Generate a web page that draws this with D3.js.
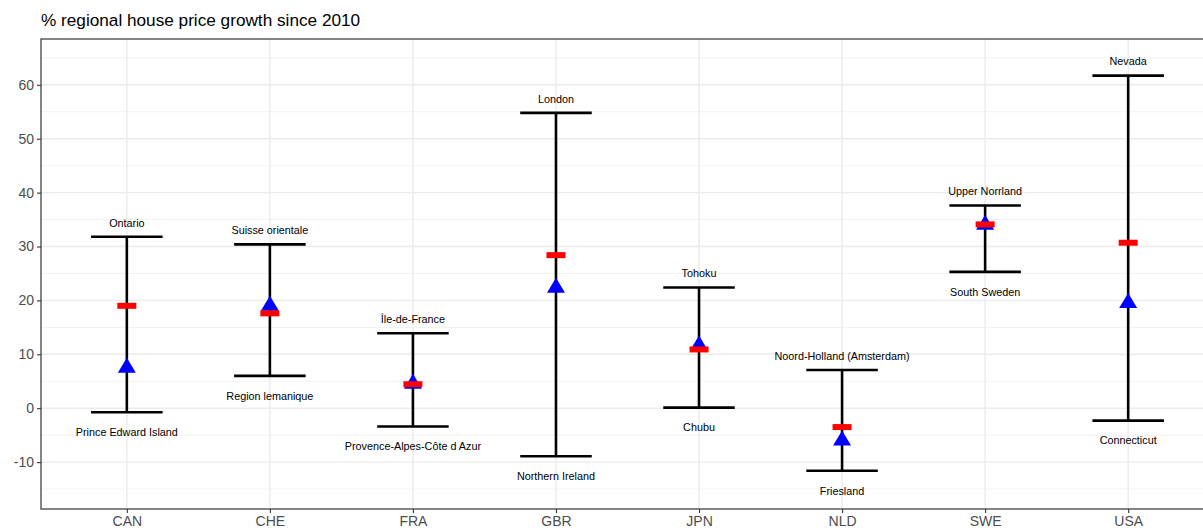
<!DOCTYPE html>
<html>
<head>
<meta charset="utf-8">
<script src="https://cdn.jsdelivr.net/npm/d3@7"></script>
<style>
  body { margin: 0; background: #fff; }
  text { font-family: "Liberation Sans", Arial, sans-serif; }
</style>
</head>
<body>
<div id="chart"></div>
<script>
// Data
const countries = ["CAN", "CHE", "FRA", "GBR", "JPN", "NLD", "SWE", "USA"];
const topRegions = ["Ontario", "Suisse orientale", "Île-de-France", "London", "Tohoku", "Noord-Holland (Amsterdam)", "Upper Norrland", "Nevada"];
const bottomRegions = ["Prince Edward Island", "Region lemanique", "Provence-Alpes-Côte d Azur", "Northern Ireland", "Chubu", "Friesland", "South Sweden", "Connecticut"];
const highGrowth = [31.8, 30.4, 13.9, 54.8, 22.4, 7.1, 37.6, 61.7];
const lowGrowth = [-0.75, 6.0, -3.4, -8.9, 0.1, -11.6, 25.3, -2.3];
const redGrowth = [19.0, 17.6, 4.45, 28.4, 10.9, -3.5, 34.1, 30.7];
const blueGrowth = [7.9, 19.4, 4.9, 22.7, 12.0, -5.6, 34.4, 19.9];
const yTicks = [-10, 0, 10, 20, 30, 40, 50, 60];
const yMinor = [-15, -5, 5, 15, 25, 35, 45, 55, 65];

const width = 1203, height = 532;
const pLeft = 41, pTop = 39, pRight = 1214, pBottom = 509;

const data = countries.map((c, i) => ({
  country: c, hi: highGrowth[i], lo: lowGrowth[i],
  hiName: topRegions[i], loName: bottomRegions[i],
  red: redGrowth[i], blue: blueGrowth[i]
}));

const svg = d3.select("#chart")
  .append("svg")
  .attr("width", width)
  .attr("height", height);

const x = d3.scalePoint().domain(countries).range([pLeft, pRight]).padding(0.6);
const y = d3.scaleLinear().domain([-18.7, 68.5]).range([pBottom, pTop]);

// Clip to panel
svg.append("clipPath").attr("id", "panel")
  .append("rect").attr("x", pLeft).attr("y", pTop).attr("width", pRight - pLeft).attr("height", pBottom - pTop);

const panel = svg.append("g").attr("clip-path", "url(#panel)");

// Grid lines
panel.selectAll(".minor").data(yMinor).enter().append("line")
  .attr("x1", pLeft).attr("x2", pRight)
  .attr("y1", d => y(d)).attr("y2", d => y(d))
  .attr("stroke", "#F2F2F2").attr("stroke-width", 1);
panel.selectAll(".major").data(yTicks).enter().append("line")
  .attr("x1", pLeft).attr("x2", pRight)
  .attr("y1", d => y(d)).attr("y2", d => y(d))
  .attr("stroke", "#EBEBEB").attr("stroke-width", 1.4);
panel.selectAll(".vgrid").data(countries).enter().append("line")
  .attr("x1", d => x(d)).attr("x2", d => x(d))
  .attr("y1", pTop).attr("y2", pBottom)
  .attr("stroke", "#EBEBEB").attr("stroke-width", 1.4);

// Error bars
const capHalf = x.step() * 0.25;
const bars = panel.selectAll(".bar").data(data).enter().append("g");
bars.append("line")
  .attr("x1", d => x(d.country)).attr("x2", d => x(d.country))
  .attr("y1", d => y(d.hi)).attr("y2", d => y(d.lo))
  .attr("stroke", "black").attr("stroke-width", 2.6);
bars.append("line")
  .attr("x1", d => x(d.country) - capHalf).attr("x2", d => x(d.country) + capHalf)
  .attr("y1", d => y(d.hi)).attr("y2", d => y(d.hi))
  .attr("stroke", "black").attr("stroke-width", 2.6);
bars.append("line")
  .attr("x1", d => x(d.country) - capHalf).attr("x2", d => x(d.country) + capHalf)
  .attr("y1", d => y(d.lo)).attr("y2", d => y(d.lo))
  .attr("stroke", "black").attr("stroke-width", 2.6);

// Blue triangles
panel.selectAll(".tri").data(data).enter().append("path")
  .attr("d", "M0,-8 L9,7 L-9,7 Z")
  .attr("transform", d => `translate(${x(d.country)},${y(d.blue)})`)
  .attr("fill", "blue");

// Red dashes
panel.selectAll(".dash").data(data).enter().append("rect")
  .attr("x", d => x(d.country) - 9.5).attr("y", d => y(d.red) - 3)
  .attr("width", 19).attr("height", 6)
  .attr("fill", "red");

// Region labels
panel.selectAll(".hiLab").data(data).enter().append("text")
  .attr("x", d => x(d.country)).attr("y", d => y(d.hi) - 14)
  .attr("dy", "0.35em")
  .attr("text-anchor", "middle")
  .style("font-size", "10.8px").attr("fill", "black")
  .text(d => d.hiName);
panel.selectAll(".loLab").data(data).enter().append("text")
  .attr("x", d => x(d.country)).attr("y", d => y(d.lo) + 20)
  .attr("dy", "0.35em")
  .attr("text-anchor", "middle")
  .style("font-size", "10.8px").attr("fill", "black")
  .text(d => d.loName);

// Panel border
svg.append("rect")
  .attr("x", pLeft).attr("y", pTop).attr("width", pRight - pLeft).attr("height", pBottom - pTop)
  .attr("fill", "none").attr("stroke", "#333333").attr("stroke-width", 1.2);

// Axes
const yAxis = svg.append("g")
  .attr("transform", `translate(${pLeft},0)`)
  .call(d3.axisLeft(y).tickValues(yTicks).tickFormat(d => String(d)).tickSize(4).tickPadding(3));
const xAxis = svg.append("g")
  .attr("transform", `translate(0,${pBottom})`)
  .call(d3.axisBottom(x).tickSize(4).tickPadding(3));
[yAxis, xAxis].forEach(g => {
  g.select(".domain").remove();
  g.selectAll(".tick line").attr("stroke", "#333333").attr("stroke-width", 1.1);
  g.selectAll(".tick text").attr("fill", "#4D4D4D").style("font-size", "14px")
    .style("font-family", "'Liberation Sans', Arial, sans-serif");
});

// Title
svg.append("text")
  .attr("x", pLeft).attr("y", 26)
  .style("font-size", "17.2px").attr("fill", "black")
  .text("% regional house price growth since 2010");
</script>
</body>
</html>
